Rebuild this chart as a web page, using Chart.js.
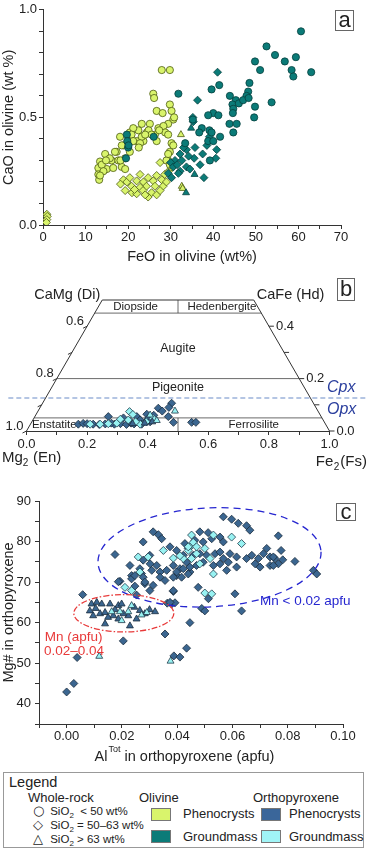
<!DOCTYPE html>
<html lang="en">
<head>
<meta charset="UTF-8">
<title>Olivine and orthopyroxene compositions</title>
<script src="https://cdn.jsdelivr.net/npm/chart.js"></script>
<style>
  body { margin: 0; width: 368px; height: 850px; position: relative; background: #fff;
         font-family: 'Liberation Sans', Arial, sans-serif; color: #222; overflow: hidden; }
  canvas { position: absolute; left: 0; }
  #chartA { top: 0; }
  #chartB { top: 270px; }
  #chartC { top: 470px; }
  .tag { position: absolute; border: 1px solid #666; background: #fff; font-size: 22px;
         text-align: center; box-sizing: border-box; }
  .legend { position: absolute; left: 3px; top: 772px; width: 361px; height: 76px;
            border: 1px solid #999; box-sizing: border-box; font-size: 12px; }
  .legend div { position: absolute; white-space: nowrap; }
  .legend sub { font-size: 8px; }
  .sym { font-family: 'DejaVu Sans', sans-serif; font-size: 13px; display: inline-block; width: 14px; }
  .sw { width: 20px; height: 13px; border: 1px solid #777; box-sizing: border-box; }
</style>
</head>
<body>
<canvas id="chartA" width="368" height="270"></canvas>
<canvas id="chartB" width="368" height="200"></canvas>
<canvas id="chartC" width="368" height="300"></canvas>

<div class="tag" style="left:335px;top:10px;width:19px;height:21px;line-height:17px;">a</div>
<div class="tag" style="left:337px;top:278px;width:18px;height:23px;line-height:20px;">b</div>
<div class="tag" style="left:336px;top:503px;width:20px;height:18px;line-height:15px;">c</div>

<div class="legend">
  <div style="left:5px;top:1px;font-size:14.5px;">Legend</div>
  <div style="left:24px;top:17px;font-size:13px;">Whole-rock</div>
  <div style="left:29px;top:30px;font-size:11.5px;"><span class="sym">&#9675;</span> SiO<sub>2</sub> &nbsp;&lt; 50 wt%</div>
  <div style="left:29px;top:44px;font-size:11.5px;"><span class="sym">&#9671;</span> SiO<sub>2</sub> = 50&ndash;63 wt%</div>
  <div style="left:29px;top:58px;font-size:11.5px;"><span class="sym">&#9651;</span> SiO<sub>2</sub> &gt; 63 wt%</div>
  <div style="left:135px;top:17px;font-size:13px;">Olivine</div>
  <div class="sw" style="left:147px;top:35px;background:#d9f46c;"></div>
  <div class="sw" style="left:147px;top:57px;background:#0b7b78;"></div>
  <div style="left:179px;top:33px;font-size:13px;">Phenocrysts</div>
  <div style="left:179px;top:56px;font-size:13px;">Groundmass</div>
  <div style="left:249px;top:17px;font-size:13px;">Orthopyroxene</div>
  <div class="sw" style="left:257px;top:35px;background:#3a669a;"></div>
  <div class="sw" style="left:257px;top:57px;background:#a0f4f6;"></div>
  <div style="left:285px;top:33px;font-size:13px;">Phenocrysts</div>
  <div style="left:285px;top:56px;font-size:13px;">Groundmass</div>
</div>

<script>
// ---- panel a: olivine, [FeO wt%, CaO wt%] ----
const olPhenCircle = [[27.9,0.72],[29.8,0.72],[25.9,0.61],[26.1,0.59],[26.7,0.53],[28.1,0.52],[29.8,0.56],[30.6,0.49],
  [29.4,0.47],[23.2,0.47],[25.1,0.47],[27.1,0.45],[28.3,0.46],[22.4,0.44],[24.4,0.43],[26.3,0.42],[28.7,0.43],[29.4,0.42],
  [20.4,0.43],[22,0.39],[23.6,0.39],[18.1,0.41],[18.9,0.37],[23.2,0.41],[26.7,0.39],[30.2,0.38],[29.8,0.34],[17.3,0.34],
  [16.1,0.30],[14.6,0.33],[13.4,0.295],[13,0.265],[13,0.235],[13.2,0.21],[15,0.26],[16.5,0.265],[18.5,0.27],[19.3,0.26],
  [17.7,0.30],[30.2,0.27],[29.4,0.30],[21.2,0.45],[29,0.30],[29.8,0.28],[20.8,0.42],[21.2,0.39],[18.5,0.37],[20.4,0.34],
  [19.3,0.31],[18.2,0.30],[15.7,0.31],[13.8,0.28],[14.2,0.25],[13.4,0.23],[24.8,0.44],[27.3,0.44],[30.2,0.53],[30.8,0.50],
  [30.6,0.37],[29.4,0.33],[22.8,0.38],[25.5,0.42],[16.9,0.34],[14.8,0.30],[22.5,0.36],[24,0.42]];
const olPhenDiamond = [[18.9,0.21],[19.7,0.20],[19.3,0.16],[20.9,0.15],[22.8,0.235],[22,0.205],[23.6,0.20],[24.7,0.22],
  [24.3,0.18],[22.8,0.175],[22,0.145],[25.9,0.205],[26.7,0.23],[26.3,0.18],[25.5,0.15],[24.7,0.13],[26.7,0.14],[27.9,0.21],
  [28.2,0.18],[27.5,0.16],[28.6,0.235],[29,0.20],[20.4,0.22],[20.8,0.18],[21.5,0.165],[23.5,0.16],[27.5,0.29],[18.2,0.19],
  [24,0.14],[29.5,0.25],[0.9,0.05],[1.0,0.04],[0.9,0.025],[0.8,0.012]];
const olPhenTriangle = [[32.4,0.42],[32.6,0.18],[32.8,0.17]];
const olGmCircle = [[60.6,0.90],[52.5,0.83],[54.5,0.79],[59.4,0.78],[56.8,0.76],[49.8,0.76],[51,0.72],[58.4,0.72],
  [58.8,0.69],[63,0.71],[48.5,0.66],[41.4,0.65],[39.6,0.63],[31.8,0.61],[43.9,0.60],[45.3,0.58],[53.7,0.57],[44.5,0.56],
  [46,0.565],[48.2,0.62],[47.8,0.60],[49.8,0.55],[44.7,0.54],[44.6,0.52],[40,0.52],[38.8,0.51],[41.2,0.51],[49.6,0.50],
  [35.2,0.49],[43.8,0.47],[45.5,0.47],[44.7,0.43],[37.3,0.45],[39.1,0.44],[36.7,0.43],[26,0.41],[39.6,0.43],[41.6,0.41],
  [38.8,0.39],[40,0.39],[39.2,0.30],[19.7,0.42],[19.8,0.39],[20,0.36],[19.5,0.31],[20.1,0.37],[33.4,0.38],[47,0.58],[48.3,0.59]];
const olGmDiamond = [[41,0.71],[36.3,0.58],[35.2,0.50],[35.3,0.48],[40.8,0.35],[40.6,0.31],[37.5,0.33],[39.1,0.41],
  [35.7,0.36],[33.7,0.35],[32.2,0.33],[31,0.30],[30,0.29],[30.6,0.27],[32.2,0.25],[33.7,0.27],[35.5,0.31],[36.9,0.28],
  [32.6,0.30],[29.4,0.24],[30.2,0.22],[31.8,0.24],[37.8,0.22],[34.2,0.32],[33,0.36],[31.5,0.28],[34.5,0.26],[38.5,0.37]];
const olGmTriangle = [[34.8,0.45],[35.6,0.235],[33.6,0.15]];

// ---- panel b: pyroxene quadrilateral, [position along En-Fs axis, Wo] ----
const quadPhenDiamond = [[0.171,0.026],[0.187,0.029],[0.22,0.026],[0.24,0.025],[0.27,0.055],[0.32,0.05],[0.34,0.038],
  [0.364,0.055],[0.375,0.042],[0.397,0.064],[0.402,0.048],[0.408,0.035],[0.435,0.087],[0.448,0.076],[0.468,0.055],
  [0.479,0.106],[0.485,0.033],[0.545,0.033],[0.559,0.033],[0.26,0.027],[0.29,0.026],[0.31,0.028],[0.33,0.025],
  [0.355,0.027],[0.38,0.026],[0.20,0.028],[0.28,0.03],[0.345,0.03],[0.42,0.06],[0.47,0.09]];
const quadGmDiamond = [[0.21,0.026],[0.243,0.026],[0.298,0.03],[0.34,0.074],[0.351,0.063],[0.336,0.042],[0.375,0.026],
  [0.418,0.048],[0.395,0.035],[0.27,0.028],[0.31,0.045],[0.36,0.035]];
const quadPhenTriangle = [[0.35,0.028],[0.39,0.03],[0.415,0.035]];
const quadGmTriangle = [[0.408,0.061],[0.49,0.076],[0.43,0.04]];
const fieldWo = [0.45, 0.2, 0.05];   // Di-Hd / Augite-Pigeonite / Pigeonite-En boundaries
const cpxOpxWo = 0.126;

// ---- panel c: orthopyroxene, [Al tot apfu, Mg#] ----
const opxPhenDiamond = [[0.0,42.9],[0.0026,45.0],[0.0038,51.4],[0.0058,66.9],[0.0175,76.8],[0.0193,70.2],[0.0205,55.5],
  [0.0229,74.1],[0.0235,71.6],[0.0247,69.0],[0.0271,72.1],[0.0277,71.2],[0.0283,69.6],[0.0277,79.9],[0.0302,74.5],
  [0.0313,82.4],[0.0332,81.7],[0.0344,80.7],[0.0374,78.7],[0.0265,73.3],[0.0235,70.8],[0.0247,71.6],[0.0277,75.4],
  [0.0301,76.6],[0.0308,72.9],[0.0326,74.1],[0.0338,72.5],[0.0338,71.2],[0.0362,72.9],[0.0356,70.4],[0.0386,74.1],
  [0.0398,71.6],[0.041,73.3],[0.0434,74.9],[0.0446,72.5],[0.0313,69.2],[0.0283,70.0],[0.0187,70.1],[0.0253,66.8],
  [0.0301,67.9],[0.0386,67.7],[0.038,64.6],[0.0446,60.0],[0.0356,57.2],[0.0364,64.8],[0.0392,64.9],[0.0388,51.8],
  [0.041,51.5],[0.0434,53.7],[0.0489,63.5],[0.05,62.9],[0.0513,65.9],[0.0633,62.9],[0.0609,67.1],
  [0.0597,85.5],[0.0621,84.5],[0.0651,83.9],[0.0663,82.8],[0.0766,81.4],[0.0482,82.4],[0.0512,82.2],[0.0525,80.7],
  [0.0555,81.1],[0.0567,79.9],[0.0494,79.9],[0.0464,80.3],[0.0428,79.5],[0.044,78.3],[0.0398,77.8],[0.0422,76.6],
  [0.0458,76.6],[0.0482,77.0],[0.0507,76.6],[0.0537,77.0],[0.0555,77.4],[0.0567,75.8],[0.0591,77.0],[0.0615,76.2],
  [0.0585,74.9],[0.0615,73.7],[0.0555,74.5],[0.0531,74.1],[0.0494,74.9],[0.047,74.1],[0.0446,73.7],[0.0422,73.3],
  [0.0398,72.5],[0.0386,71.2],[0.0416,71.2],[0.044,72.0],[0.0579,72.9],[0.0651,75.8],[0.067,76.6],[0.0694,75.8],
  [0.0682,74.5],[0.0712,77.0],[0.0724,78.3],[0.0736,76.2],[0.0754,75.8],[0.0766,74.5],[0.0736,74.1],[0.07,73.7],
  [0.0826,75.1],[0.0893,72.9],[0.0905,72.0],[0.0476,68.7],[0.0386,67.9],[0.0374,65.0],[0.0567,86.1],[0.0748,76.2],
  [0.0782,75.5],[0.0776,77.8],[0.0748,74.1]];
const opxGmDiamond = [[0.0259,76.2],[0.0295,76.2],[0.035,77.8],[0.0386,75.9],[0.0422,75.8],[0.044,77.8],[0.0452,79.1],
  [0.0211,68.7],[0.0235,67.9],[0.0452,75.8],[0.047,77.0],[0.0452,81.6],[0.0458,79.8],[0.0531,81.6],[0.0597,81.1],
  [0.0633,79.5],[0.044,78.7],[0.047,78.7],[0.05,78.3],[0.041,76.5],[0.0482,74.5],[0.0519,75.8],[0.0531,72.0],
  [0.05,67.3],[0.0525,67.1],[0.0265,72.5]];
const opxPhenTriangle = [[0.009,64.6],[0.0109,65.0],[0.0127,64.6],[0.0084,62.9],[0.0121,62.2],[0.0139,62.5],[0.0157,64.6],
  [0.0187,64.2],[0.0199,64.6],[0.0223,61.7],[0.0265,63.0],[0.0283,62.2],[0.032,62.7],[0.0169,61.7],[0.0187,60.9],
  [0.0139,59.7],[0.0229,59.2],[0.0096,61.7],[0.015,61.3],[0.0205,62.2],[0.0253,60.9],[0.0105,63.5],[0.0175,63.2],
  [0.0245,63.8],[0.03,63.2]];
const opxGmTriangle = [[0.0163,62.7],[0.0193,62.7],[0.0223,62.7],[0.0271,61.9],[0.0199,60.5],[0.0235,64.2],
  [0.0118,51.7],[0.0376,50.5],[0.029,62.5]];
// Mn fields drawn as ellipses: [centre x, centre y, half-width, half-height]
const mnLowField = [0.0517, 76.1, 0.0404, 12.2];
const mnHighField = [0.0207, 62.3, 0.0181, 4.6];

const OL_PHEN = '#d9f46c', OL_GM = '#0b7b78', OPX_PHEN = '#3b6690', OPX_GM = '#98f2f2';
const FONT = "'Liberation Sans', Arial, sans-serif";

Chart.defaults.font.family = FONT;
Chart.defaults.color = '#222';

function series(arr, style, fill, stroke, r) {
  return {
    data: arr.map(p => ({ x: p[0], y: p[1] })),
    pointStyle: style, pointRadius: r, backgroundColor: fill,
    borderColor: stroke, borderWidth: 0.8, showLine: false
  };
}
function line(arr, color, width, dash) {
  return {
    data: arr.map(p => ({ x: p[0], y: p[1] })),
    showLine: true, pointRadius: 0, borderColor: color, borderWidth: width,
    borderDash: dash || [], clip: false
  };
}
function axis(min, max, step, labelFn, size) {
  return {
    min: min, max: max,
    ticks: { stepSize: step, autoSkip: false, maxRotation: 0, padding: 2, font: { size: 13 }, callback: labelFn },
    grid: { drawOnChartArea: false, tickLength: 4, color: '#333' },
    border: { color: '#333' },
    afterFit: s => { if (s.isHorizontal()) s.height = size; else s.width = size; }
  };
}
const baseOpts = {
  responsive: false, animation: false, events: [],
  plugins: { legend: { display: false }, tooltip: { enabled: false } }
};

// ---------------- panel a ----------------
const xa = axis(0, 70, 5, v => v % 10 === 0 ? String(v) : '', 45);
xa.ticks.padding = 1;
xa.title = { display: true, text: 'FeO in olivine (wt%)', font: { size: 14.5 }, padding: { top: 1, bottom: 4 } };
const ya = axis(0, 1, 0.1, v => Math.round(v * 10) % 5 === 0 ? v.toFixed(1) : '', 43);
ya.title = { display: true, text: 'CaO in olivine (wt %)', font: { size: 14.5 }, padding: 0 };
new Chart(document.getElementById('chartA'), {
  type: 'scatter',
  data: { datasets: [
    series(olGmTriangle, 'triangle', OL_GM, '#06403e', 4),
    series(olGmCircle, 'circle', OL_GM, '#06403e', 3.6),
    series(olGmDiamond, 'rectRot', OL_GM, '#06403e', 4),
    series(olPhenTriangle, 'triangle', OL_PHEN, '#4b5a10', 4),
    series(olPhenCircle, 'circle', OL_PHEN, '#4b5a10', 3.6),
    series(olPhenDiamond, 'rectRot', OL_PHEN, '#4b5a10', 4)
  ] },
  options: Object.assign({}, baseOpts, {
    layout: { padding: { top: 5, right: 27, left: 0, bottom: 0 } },
    scales: { x: xa, y: ya }
  })
});

// ---------------- panel b ----------------
const quadText = {
  id: 'quadText',
  beforeDatasetsDraw(chart) {
    const c = chart.ctx, x = chart.scales.x, y = chart.scales.y;
    c.save();
    c.fillStyle = '#222';
    c.textBaseline = 'middle';
    c.textAlign = 'center';
    c.font = '11.5px ' + FONT;
    c.fillText('Diopside', x.getPixelForValue(0.36), y.getPixelForValue(0.475));
    c.fillText('Hedenbergite', x.getPixelForValue(0.645), y.getPixelForValue(0.475));
    c.fillText('Ferrosilite', x.getPixelForValue(0.75), y.getPixelForValue(0.023));
    c.textAlign = 'left';
    c.fillText('Enstatite', x.getPixelForValue(0.018), y.getPixelForValue(0.023));
    c.textAlign = 'center';
    c.font = '12.5px ' + FONT;
    c.fillText('Augite', x.getPixelForValue(0.5), y.getPixelForValue(0.313));
    c.fillText('Pigeonite', x.getPixelForValue(0.5), y.getPixelForValue(0.165));
    c.restore();
  },
  afterDraw(chart) {
    const c = chart.ctx, x = chart.scales.x, y = chart.scales.y;
    c.save();
    c.strokeStyle = '#333'; c.lineWidth = 1; c.fillStyle = '#222';
    c.font = '13px ' + FONT;
    c.textBaseline = 'middle';
    // edge ticks on both slanted sides
    [0, 0.1, 0.2, 0.3, 0.4].forEach(w => {
      const py = y.getPixelForValue(w);
      const pl = x.getPixelForValue(w / 2), pr = x.getPixelForValue(1 - w / 2);
      c.beginPath(); c.moveTo(pl, py); c.lineTo(pl - 4, py + 2); c.stroke();
      c.beginPath(); c.moveTo(pr, py); c.lineTo(pr + 5, py); c.stroke();
      if (Math.round(w * 10) % 2 === 0) {
        c.textAlign = 'right';
        c.fillText((1 - w).toFixed(1), pl - 3, py - 5);
        c.textAlign = 'left';
        c.fillText(w.toFixed(1), pr + 7, py);
      }
    });
    c.font = '14.5px ' + FONT;
    c.textAlign = 'right';
    c.fillText('CaMg (Di)', x.getPixelForValue(0.25) - 2, y.getPixelForValue(0.5) - 5);
    c.textAlign = 'left';
    c.fillText('CaFe (Hd)', x.getPixelForValue(0.75) + 3, y.getPixelForValue(0.5) - 5);
    // end-member labels with subscripts
    const base = y.getPixelForValue(0);
    c.font = '15px ' + FONT;
    c.fillText('Mg', 2, base + 27);
    const w1 = c.measureText('Mg').width;
    c.font = '10px ' + FONT;
    c.fillText('2', 2 + w1, base + 32);
    c.font = '15px ' + FONT;
    c.fillText(' (En)', 2 + w1 + 6, base + 27);
    const fsTxt = '(Fs)';
    c.textAlign = 'right';
    c.fillText(fsTxt, 367, base + 31);
    const wFs = c.measureText(fsTxt).width;
    c.font = '10px ' + FONT;
    c.fillText('2', 367 - wFs - 1, base + 36);
    c.font = '15px ' + FONT;
    c.fillText('Fe', 367 - wFs - 7, base + 31);
    // Cpx / Opx
    c.fillStyle = '#2b3f9e';
    c.font = 'italic 16px ' + FONT;
    c.textAlign = 'left';
    const pc = y.getPixelForValue(cpxOpxWo);
    c.fillText('Cpx', 327, pc - 10);
    c.fillText('Opx', 327, pc + 12);
    c.restore();
  }
};

const quadLines = [
  line([[0, 0], [0.25, 0.5], [0.75, 0.5], [1, 0]], '#333', 1)
];
fieldWo.forEach(w => quadLines.push(line([[w / 2, w], [1 - w / 2, w]], '#444', 0.8)));
quadLines.push(line([[0.5, 0.45], [0.5, 0.5]], '#444', 0.8));
quadLines.push(line([[0.5, 0], [0.5, 0.05]], '#444', 0.8));
quadLines.push(line([[-0.06, cpxOpxWo], [1.125, cpxOpxWo]], '#6a8cc8', 1.2, [5, 3]));

const xb = axis(0, 1, 0.1, v => Math.round(v * 10) % 2 === 0 ? v.toFixed(1) : '', 39);
new Chart(document.getElementById('chartB'), {
  type: 'scatter',
  data: { datasets: [
    series(quadGmTriangle, 'triangle', OPX_GM, '#1f3a4a', 4),
    series(quadPhenTriangle, 'triangle', OPX_PHEN, '#1a2c3c', 4),
    series(quadGmDiamond, 'rectRot', OPX_GM, '#1f3a4a', 4),
    series(quadPhenDiamond, 'rectRot', OPX_PHEN, '#1a2c3c', 4)
  ].concat(quadLines) },
  options: Object.assign({}, baseOpts, {
    layout: { padding: { top: 30, right: 38.5, left: 26.5, bottom: 0 } },
    scales: { x: xb, y: { min: 0, max: 0.5, display: false } }
  }),
  plugins: [quadText]
});

// ---------------- panel c ----------------
const mnFields = {
  id: 'mnFields',
  afterDatasetsDraw(chart) {
    const c = chart.ctx, x = chart.scales.x, y = chart.scales.y;
    function ell(f, color, dash, rot) {
      const cx = x.getPixelForValue(f[0]), cy = y.getPixelForValue(f[1]);
      const rx = x.getPixelForValue(f[0] + f[2]) - cx, ry = cy - y.getPixelForValue(f[1] + f[3]);
      c.beginPath();
      c.ellipse(cx, cy, rx, ry, rot, 0, Math.PI * 2);
      c.strokeStyle = color; c.lineWidth = 1.3; c.setLineDash(dash); c.stroke();
    }
    c.save();
    ell(mnLowField, '#2626d0', [7, 5], -0.05);
    ell(mnHighField, '#e83a3a', [6, 2, 1.5, 2], 0);
    c.setLineDash([]);
    c.font = '13.5px ' + FONT;
    c.textBaseline = 'middle';
    c.fillStyle = '#2626d0';
    c.fillText('Mn < 0.02 apfu', x.getPixelForValue(0.07), y.getPixelForValue(65.2));
    c.fillStyle = '#e83a3a';
    c.fillText('Mn (apfu)', x.getPixelForValue(-0.0079), y.getPixelForValue(56.3));
    c.fillText('0.02\u20130.04', x.getPixelForValue(-0.0082), y.getPixelForValue(53.0));
    // x title with superscript
    c.fillStyle = '#222';
    c.font = '14.5px ' + FONT;
    const a1 = 'Al', a2 = ' in orthopyroxene (apfu)';
    const wA = c.measureText(a1).width, wB = c.measureText(a2).width;
    c.font = '9px ' + FONT;
    const wS = c.measureText('Tot').width;
    const x0 = 184 - (wA + wS + wB) / 2, yT = 287;
    c.fillText('Tot', x0 + wA + 1, yT - 7);
    c.font = '14.5px ' + FONT;
    c.fillText(a1, x0, yT);
    c.fillText(a2, x0 + wA + wS + 1, yT);
    c.restore();
  }
};

const xc = axis(-0.01, 0.1, 0.01, v => {
  const k = Math.round(v * 100);
  return k >= 0 && k % 2 === 0 ? (k / 100).toFixed(2) : '';
}, 46);
xc.ticks.padding = 1;
const yc = axis(35, 90, 5, v => v % 10 === 0 ? String(v) : '', 39);
yc.ticks.padding = 4;
yc.title = { display: true, text: 'Mg# in orthopyroxene', font: { size: 14.5 }, padding: 0 };
new Chart(document.getElementById('chartC'), {
  type: 'scatter',
  data: { datasets: [
    series(opxGmTriangle, 'triangle', OPX_GM, '#1f3a4a', 4),
    series(opxPhenTriangle, 'triangle', OPX_PHEN, '#1a2c3c', 4),
    series(opxGmDiamond, 'rectRot', OPX_GM, '#1f3a4a', 4),
    series(opxPhenDiamond, 'rectRot', OPX_PHEN, '#1a2c3c', 4)
  ] },
  options: Object.assign({}, baseOpts, {
    layout: { padding: { top: 31, right: 25, left: 0, bottom: 0 } },
    scales: { x: xc, y: yc }
  }),
  plugins: [mnFields]
});
</script>
</body>
</html>
